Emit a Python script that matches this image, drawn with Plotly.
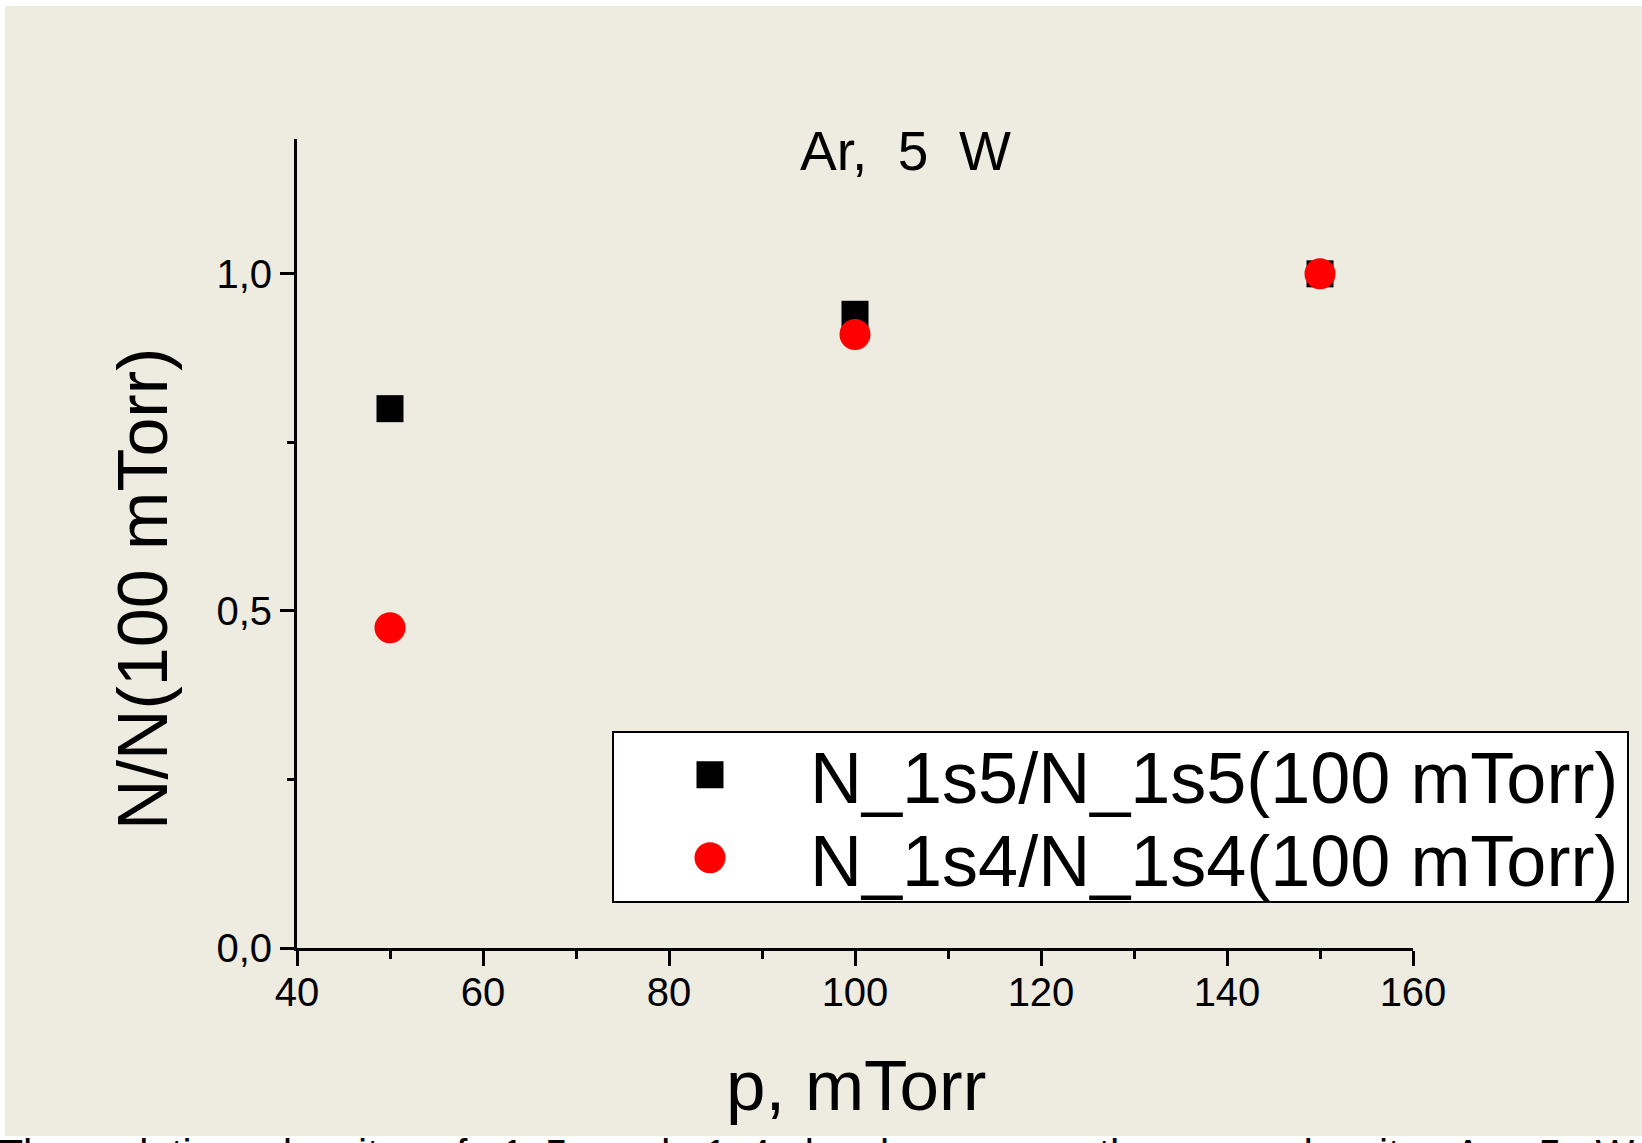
import plotly.graph_objects as go

# Relative metastable densities vs. gas pressure (Ar discharge, 5 W)
pressure_mtorr = [50, 100, 150]
ratio_1s5 = [0.80, 0.94, 1.00]
ratio_1s4 = [0.475, 0.91, 1.00]

series_names = ["N_1s5/N_1s5(100 mTorr)", "N_1s4/N_1s4(100 mTorr)"]
x_range = [40, 160]
y_range = [0, 1.2]

title_text = "Ar,\u00a0\u00a05\u00a0\u00a0W"
x_title = "p, mTorr"
y_title = "N/N(100 mTorr)"
caption_words = ["The", "relative", "density", "of", "1s5", "and", "1s4", "levels",
                 "versus", "the", "gas", "density", "Ar,", "5", "W"]

# Page geometry (pixels)
W, H = 1642, 1143
ML, MR, MT, MB = 297, 229, 139, 195
PW, PH = W - ML - MR, H - MT - MB


def fx(p):
    """pixel column -> paper x"""
    return (p - ML) / PW


def fy(p):
    """pixel row -> paper y"""
    return (H - MB - p) / PH


FONT = "Liberation Sans, Arial, sans-serif"
BEIGE = "#EEEBE0"
LEG_PAD = "\u00a0" * 4
MARKER_SIZES = [27, 31]

fig = go.Figure()
fig.add_trace(go.Scatter(
    x=pressure_mtorr, y=ratio_1s5, mode="markers", name=LEG_PAD + series_names[0],
    marker=dict(symbol="square", size=MARKER_SIZES[0], color="black", line=dict(width=0)),
    legend="legend",
))
fig.add_trace(go.Scatter(
    x=pressure_mtorr, y=ratio_1s4, mode="markers", name=LEG_PAD + series_names[1],
    marker=dict(symbol="circle", size=MARKER_SIZES[1], color="#FF0000", line=dict(width=0)),
    legend="legend2",
))

axis_common = dict(
    showline=True, linecolor="black", linewidth=3, mirror=False,
    ticks="outside", tickcolor="black", tickwidth=2.5,
    showgrid=False, zeroline=False,
    tickfont=dict(family=FONT, size=40, color="black"),
)

fig.update_xaxes(
    range=x_range, tick0=0, dtick=20, ticklen=15, ticklabelstandoff=-8,
    minor=dict(dtick=10, ticks="outside", ticklen=8, tickwidth=2.5,
               tickcolor="black", showgrid=False),
    **axis_common,
)
fig.update_yaxes(
    range=y_range, tick0=0, dtick=0.5, ticklen=14, tickformat=".1f",
    minor=dict(dtick=0.25, ticks="outside", ticklen=7, tickwidth=2.5,
               tickcolor="black", showgrid=False),
    **axis_common,
)

legend_common = dict(
    xanchor="left", yanchor="middle", bgcolor="rgba(0,0,0,0)", borderwidth=0,
    font=dict(family=FONT, size=72, color="black"), itemwidth=30,
)

caption = ("\u00a0" * 3).join(caption_words)

fig.update_layout(
    width=W, height=H,
    margin=dict(l=ML, r=MR, t=MT, b=MB, pad=0),
    paper_bgcolor="white",
    plot_bgcolor="rgba(0,0,0,0)",
    separators=", ",
    font=dict(family=FONT, color="black"),
    showlegend=True,
    legend=dict(x=fx(690), y=fy(775), **legend_common),
    legend2=dict(x=fx(690), y=fy(858), **legend_common),
    shapes=[
        # beige page background
        dict(type="rect", xref="paper", yref="paper", layer="below",
             x0=fx(5), x1=fx(W + 5), y0=fy(1136), y1=fy(6),
             fillcolor=BEIGE, line=dict(width=0)),
        # legend frame
        dict(type="rect", xref="paper", yref="paper", layer="below",
             x0=fx(613), x1=fx(1628), y0=fy(902), y1=fy(732),
             fillcolor="white", line=dict(color="black", width=2)),
    ],
    annotations=[
        dict(text=title_text, xref="paper", yref="paper", x=fx(905), y=fy(118),
             xanchor="center", yanchor="top", showarrow=False,
             font=dict(family=FONT, size=55, color="black")),
        dict(text=x_title, xref="paper", yref="paper", x=fx(856), y=fy(1044),
             xanchor="center", yanchor="top", showarrow=False,
             font=dict(family=FONT, size=71, color="black")),
        dict(text=y_title, xref="paper", yref="paper", x=fx(143), y=fy(589),
             xanchor="center", yanchor="middle", textangle=-90, showarrow=False,
             font=dict(family=FONT, size=70, color="black")),
        dict(text=caption, xref="paper", yref="paper", x=fx(-4), y=fy(1129),
             xanchor="left", yanchor="top", showarrow=False,
             font=dict(family=FONT, size=41, color="black")),
    ],
)

# Legend keys are capped at 16 px by plotly; enlarge them to the marker size
post_js = """
var sizes = %s;
document.querySelectorAll('.legendpoints').forEach(function(g, i){
  var k = sizes[Math.min(i, sizes.length - 1)] / 16;
  g.querySelectorAll('path').forEach(function(p){
    var t = p.getAttribute('transform') || '';
    p.setAttribute('transform', t + ' scale(' + k + ')');
  });
});
""" % MARKER_SIZES

fig.write_html("out.html", config={"displayModeBar": False}, post_script=post_js)
